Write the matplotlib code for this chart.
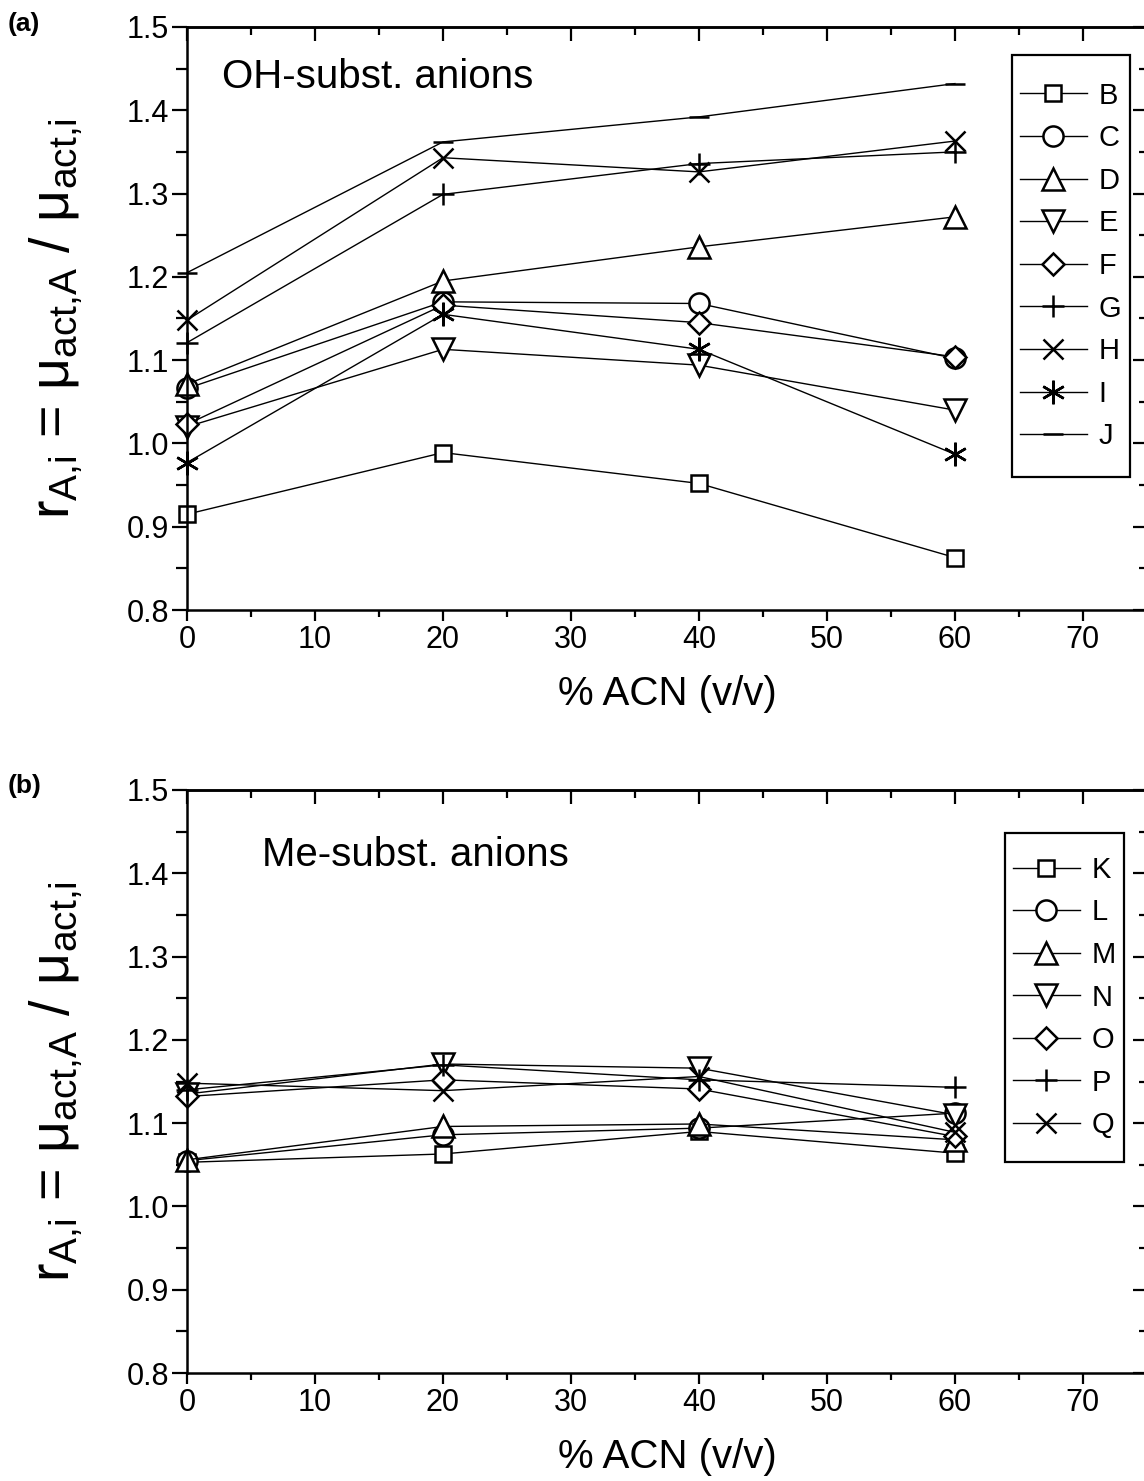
import numpy as np
import matplotlib
matplotlib.use('Agg')
import matplotlib.pyplot as plt
from matplotlib.ticker import MultipleLocator, NullFormatter
from matplotlib.patches import Rectangle

plt.rcParams['font.family'] = ['Liberation Sans', 'DejaVu Sans']
plt.rcParams['mathtext.fontset'] = 'custom'
plt.rcParams['mathtext.rm'] = 'Liberation Sans'
plt.rcParams['mathtext.it'] = 'Liberation Sans'
plt.rcParams['mathtext.default'] = 'regular'

# % ACN (v/v)
acn = [0, 20, 40, 60]

# (a) OH-substituted anions
oh_names = ['B', 'C', 'D', 'E', 'F', 'G', 'H', 'I', 'J']
B = [0.915, 0.989, 0.952, 0.863]
C = [1.066, 1.170, 1.168, 1.102]
D = [1.071, 1.195, 1.236, 1.272]
E = [1.020, 1.113, 1.094, 1.040]
F = [1.023, 1.166, 1.145, 1.104]
G = [1.121, 1.299, 1.336, 1.350]
H = [1.148, 1.343, 1.326, 1.363]
I = [0.977, 1.155, 1.113, 0.987]
J = [1.205, 1.362, 1.392, 1.432]
oh_vals = [B, C, D, E, F, G, H, I, J]

# (b) Me-substituted anions
me_names = ['K', 'L', 'M', 'N', 'O', 'P', 'Q']
K = [1.053, 1.063, 1.090, 1.064]
L = [1.055, 1.086, 1.094, 1.112]
M = [1.056, 1.096, 1.099, 1.080]
N = [1.135, 1.171, 1.166, 1.110]
O = [1.132, 1.152, 1.141, 1.084]
P = [1.140, 1.170, 1.152, 1.143]
Q = [1.148, 1.139, 1.156, 1.089]
me_vals = [K, L, M, N, O, P, Q]

# marker, size
markers = [('s', 12), ('o', 14.5), ('^', 16), ('v', 16), ('D', 11.5),
           ('+', 16), ('x', 14), ((6, 2, 0), 17), ('_', 14)]

ylab = r'r$_{A{,}i}$ = μ$_{act{,}A}$ / μ$_{act{,}i}$'


def style_axes(ax):
    ax.set_xlim(0, 75)
    ax.set_ylim(0.8, 1.5)
    ax.xaxis.set_major_locator(MultipleLocator(10))
    ax.xaxis.set_minor_locator(MultipleLocator(5))
    ax.yaxis.set_major_locator(MultipleLocator(0.1))
    ax.yaxis.set_minor_locator(MultipleLocator(0.05))
    ax.yaxis.set_major_formatter(plt.FuncFormatter(lambda v, p: '%.1f' % v))
    ax.tick_params(which='both', direction='out', top=False, right=False, width=1.6, labelsize=22)
    ax.tick_params(axis='x', which='major', length=8, pad=3)
    ax.tick_params(axis='x', which='minor', length=5)
    ax.tick_params(axis='y', which='major', length=11, pad=2)
    ax.tick_params(axis='y', which='minor', length=8)
    for sp in ax.spines.values():
        sp.set_linewidth(1.8)

    # top and right ticks point inward
    top = ax.secondary_xaxis('top')
    top.xaxis.set_major_locator(MultipleLocator(10))
    top.xaxis.set_minor_locator(MultipleLocator(5))
    top.xaxis.set_major_formatter(NullFormatter())
    top.tick_params(which='both', direction='in', width=1.6)
    top.tick_params(which='major', length=10)
    top.tick_params(which='minor', length=6)
    top.spines['top'].set_linewidth(1.8)

    right = ax.secondary_yaxis('right')
    right.yaxis.set_major_locator(MultipleLocator(0.1))
    right.yaxis.set_minor_locator(MultipleLocator(0.05))
    right.yaxis.set_major_formatter(NullFormatter())
    right.tick_params(which='both', direction='in', width=1.6)
    right.tick_params(which='major', length=10)
    right.tick_params(which='minor', length=6)
    right.spines['right'].set_linewidth(1.8)

    ax.set_xlabel('% ACN (v/v)', fontsize=29, labelpad=14)
    ax.set_ylabel(ylab, fontsize=40, labelpad=30)


def draw_panel(ax, names, vals):
    for name, v, (m, ms) in zip(names, vals, markers):
        ax.plot(acn, v, color='black', linewidth=1.0, marker=m, markersize=ms,
                markeredgewidth=1.8, markerfacecolor='white', markeredgecolor='black',
                label=name, clip_on=False)


def legend_box(ax, x0, y0, x1, y1):
    ax.add_patch(Rectangle((x0, y0), x1 - x0, y1 - y0, transform=ax.transAxes,
                           fill=False, edgecolor='black', linewidth=1.6, clip_on=False, zorder=5))
    ax.legend(loc='center', bbox_to_anchor=((x0 + x1) / 2, (y0 + y1) / 2), frameon=False,
              fontsize=21, handlelength=2.3, handletextpad=0.4, labelspacing=0.5,
              borderpad=0, borderaxespad=0, markerscale=1)


fig = plt.figure(figsize=(11.44, 14.81), dpi=100)
ax1 = fig.add_axes([0.1635, 0.5881, 0.839, 0.3937])
ax2 = fig.add_axes([0.1635, 0.0729, 0.839, 0.3937])

draw_panel(ax1, oh_names, oh_vals)
draw_panel(ax2, me_names, me_vals)

for ax in (ax1, ax2):
    style_axes(ax)

legend_box(ax1, 0.859, 0.228, 0.982, 0.952)
legend_box(ax2, 0.852, 0.362, 0.976, 0.926)

ax1.text(0.036, 0.914, 'OH-subst. anions', transform=ax1.transAxes, fontsize=29, va='center')
ax2.text(0.078, 0.888, 'Me-subst. anions', transform=ax2.transAxes, fontsize=29, va='center')

fig.text(0.007, 0.984, '(a)', fontsize=19, fontweight='bold', va='center')
fig.text(0.007, 0.469, '(b)', fontsize=19, fontweight='bold', va='center')

fig.savefig('out.png', dpi=100)
